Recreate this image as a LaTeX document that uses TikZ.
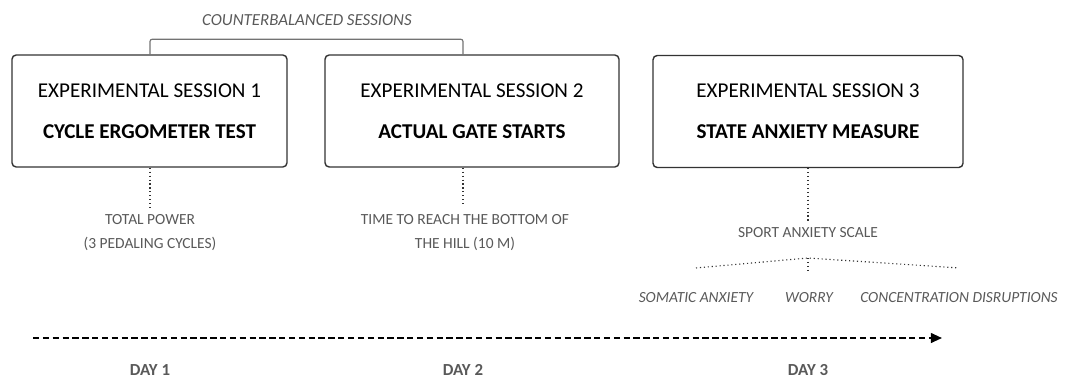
\documentclass[tikz,border=0pt]{standalone}
\usepackage{fontspec}
\setmainfont{Carlito}
\usetikzlibrary{arrows.meta}
\definecolor{labelgray}{HTML}{595959}
\definecolor{boxline}{HTML}{333333}
\begin{document}
\begin{tikzpicture}[
    x=0.025cm, y=-0.025cm,
    session/.style={rectangle, draw=boxline, line width=1pt, rounded corners=3pt, align=center, inner sep=0pt, font=\fontsize{15}{29}\selectfont},
    measure/.style={align=center, text=labelgray, font=\fontsize{11}{17}\selectfont},
    subscale/.style={text=labelgray, font=\fontsize{11}{13}\selectfont\itshape},
    daylabel/.style={text=labelgray, font=\fontsize{12}{14}\selectfont\bfseries},
    link/.style={dotted, line width=0.8pt, draw=black!80},
    timeline/.style={-{Triangle[length=8pt, width=7pt]}, line width=1.4pt, dash pattern=on 4.5pt off 2.5pt}
]
\useasboundingbox (0,0) rectangle (1083,380);

% Sessions
\node[session, minimum width=275*0.025cm, minimum height=112*0.025cm] (sess1) at (149.5,111) {EXPERIMENTAL SESSION 1\\\textbf{CYCLE ERGOMETER TEST}};
\node[session, minimum width=294*0.025cm, minimum height=112*0.025cm] (sess2) at (472,111) {EXPERIMENTAL SESSION 2\\\textbf{ACTUAL GATE STARTS}};
\node[session, minimum width=310*0.025cm, minimum height=112*0.025cm] (sess3) at (808,111.5) {EXPERIMENTAL SESSION 3\\\textbf{STATE ANXIETY MEASURE}};

% Counterbalancing bracket
\node[text=labelgray, font=\fontsize{12}{14}\selectfont\itshape] (counter) at (307,20) {COUNTERBALANCED SESSIONS};

% Measures
\node[measure] (meas1) at (150,233) {TOTAL POWER\\(3 PEDALING CYCLES)};
\node[measure] (meas2) at (465,233) {TIME TO REACH THE BOTTOM OF\\THE HILL (10 M)};
\node[measure] (meas3) at (808,233) {SPORT ANXIETY SCALE};

\draw[draw=black!55, line width=0.8pt, rounded corners=1.5pt] (sess1.north -| meas1) -- ++(0,-15) -| (sess2.north -| 463,0);

% Subscales
\node[subscale] (somatic) at (696,298) {SOMATIC ANXIETY};
\node[subscale] (worry) at (809,298) {WORRY};
\node[subscale] (concentration) at (959,298) {CONCENTRATION DISRUPTIONS};
\coordinate (fork) at (808,258);

% Links
\draw[link] (sess1.south -| meas1.north) -- (meas1.north);
\draw[link] (sess2.south -| 463,0) -- (463,205);
\draw[link] (sess3.south) -- (meas3.north);
\draw[link] ([yshift=0.5cm]somatic.north) -- (fork) -- ([yshift=0.5cm]concentration.north);
\draw[link] (fork) -- (fork |- 0,271);

% Time line
\coordinate (tstart) at (33,338);
\coordinate (tend) at (942,338);
\draw[timeline] (tstart) -- (tend);

\node[daylabel] (day1) at (150,370) {DAY 1};
\node[daylabel] (day2) at (463,370) {DAY 2};
\node[daylabel] (day3) at (808,370) {DAY 3};

\end{tikzpicture}
\end{document}
